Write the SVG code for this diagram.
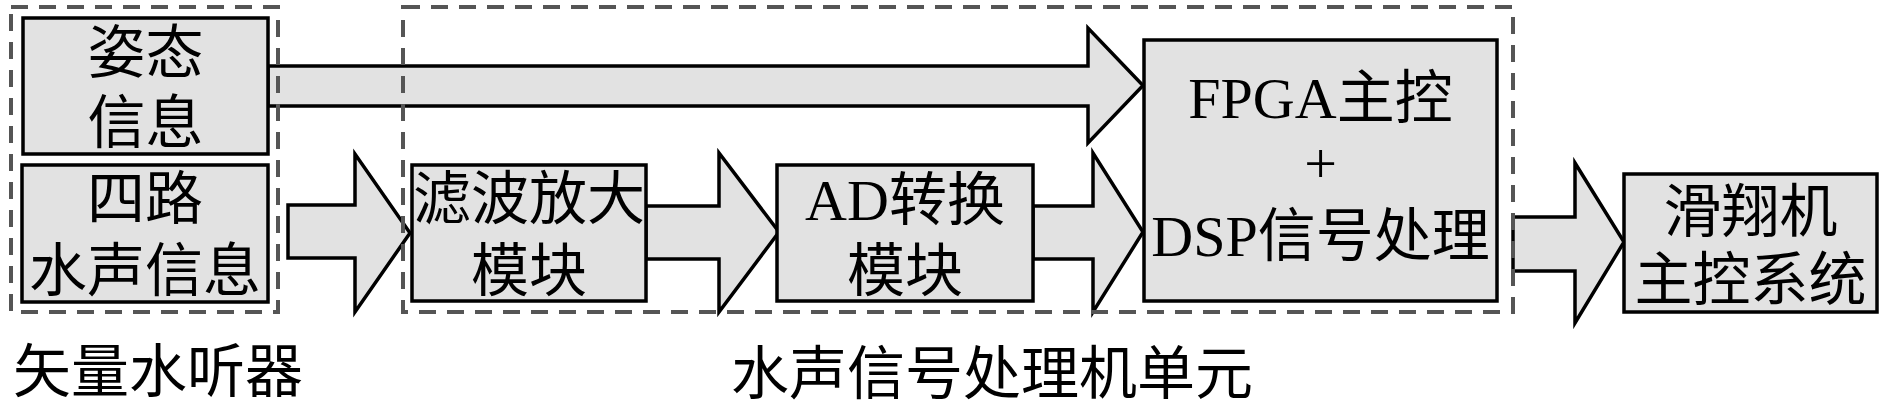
<svg xmlns="http://www.w3.org/2000/svg" width="1890" height="404" viewBox="0 0 1890 404">
<style>
.box{fill:#e2e2e2;stroke:#000;stroke-width:3.5}
.arr{fill:#e2e2e2;stroke:#000;stroke-width:3.5;stroke-linejoin:miter;stroke-miterlimit:10}
.grp{fill:none;stroke:#555;stroke-width:4;stroke-dasharray:17 11}
.t{font-family:"Liberation Serif","Noto Sans CJK SC",serif;font-size:58px;fill:#000;text-anchor:middle}
.lbl{font-family:"Liberation Serif","Noto Sans CJK SC",serif;font-size:58px;fill:#000}
</style>
<rect width="1890" height="404" fill="#fff"/>
<g id="connectors">
<polygon class="arr" points="268,66 1088,66 1088,28 1143,85.5 1088,143 1088,106 268,106"/>
<polygon class="arr" points="288,205 355,205 355,154 410,233 355,312 355,258 288,258"/>
<polygon class="arr" points="646,206 719,206 719,153 779,232 719,312 719,259 646,259"/>
<polygon class="arr" points="1033,206 1093,206 1093,153 1143,232 1093,312 1093,259 1033,259"/>
<polygon class="arr" points="1513,217 1575,217 1575,163 1624,242 1575,323 1575,271 1513,271"/>
</g>
<g id="attitude">
<rect class="box" x="23" y="18" width="245" height="136"/>
<text class="t" x="145.5" y="73">姿态</text>
<text class="t" x="145.5" y="143">信息</text>
</g>
<g id="acoustic">
<rect class="box" x="22" y="165" width="246" height="137"/>
<text class="t" x="145" y="219">四路</text>
<text class="t" x="145" y="291">水声信息</text>
</g>
<g id="filter">
<rect class="box" x="412" y="165" width="234" height="136"/>
<text class="t" x="529" y="219">滤波放大</text>
<text class="t" x="529" y="291">模块</text>
</g>
<g id="adc">
<rect class="box" x="777" y="165" width="256" height="136"/>
<text class="t" x="905" y="220">AD转换</text>
<text class="t" x="905" y="291">模块</text>
</g>
<g id="fpga">
<rect class="box" x="1144" y="40" width="353" height="261"/>
<text class="t" x="1320.5" y="118">FPGA主控</text>
<text class="t" x="1320.5" y="183">+</text>
<text class="t" x="1320.5" y="256">DSP信号处理</text>
</g>
<g id="glider">
<rect class="box" x="1624" y="174" width="253" height="138"/>
<text class="t" x="1750.5" y="232">滑翔机</text>
<text class="t" x="1750.5" y="300">主控系统</text>
</g>
<g id="group-hydrophone">
<rect class="grp" x="11" y="7" width="267" height="305"/>
<text class="lbl" x="13" y="392">矢量水听器</text>
</g>
<g id="group-processor">
<rect class="grp" x="403" y="7" width="1110" height="305"/>
<text class="lbl" x="731" y="394">水声信号处理机单元</text>
</g>
</svg>
